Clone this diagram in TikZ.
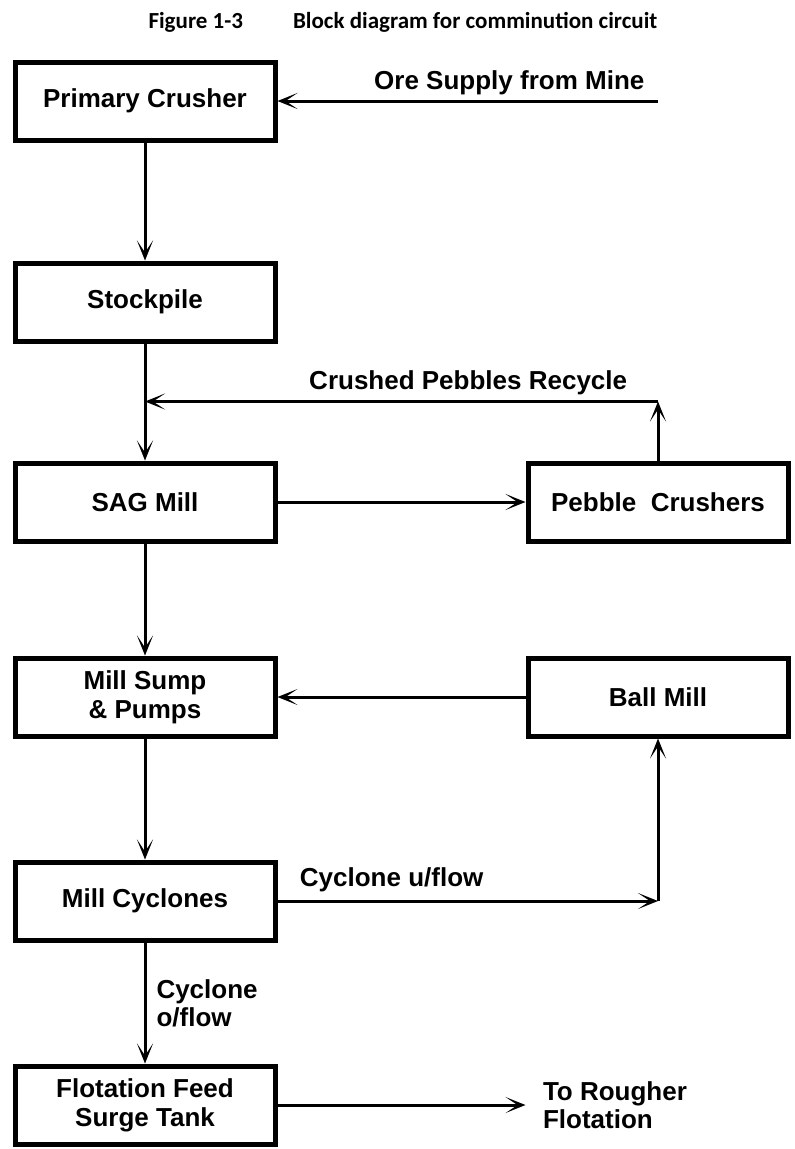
\documentclass[tikz,border=0pt]{standalone}
\usepackage{fontspec}
\setmainfont{Liberation Sans}
\newfontfamily\captionfont{Carlito}
\usetikzlibrary{arrows.meta,positioning}

\begin{document}
\begin{tikzpicture}[
  x=1pt, y=-1pt,
  node distance=118pt and 248pt,
  block/.style={draw=black, line width=5pt, fill=white, minimum width=260pt, minimum height=78pt, inner sep=0pt, align=center, font=\bfseries\fontsize{26}{29}\selectfont},
  flowlabel/.style={inner sep=2pt, align=left, font=\bfseries\fontsize{26}{28}\selectfont},
  arr/.style={-{Stealth[length=20pt, width=16pt, inset=12pt]}, line width=3pt}
]
\useasboundingbox (0,0) rectangle (795,1149);
\node[anchor=west, font=\captionfont\bfseries\fontsize{23}{28}\selectfont] (title) at (145,22) {Figure 1-3\hspace{50pt}Block diagram for comminution circuit};
\node[block] (pc) at (145,101) {Primary Crusher};
\node[block, below=of pc] (stock) {Stockpile};
\node[block, below=117pt of stock] (sag) {SAG Mill};
\node[block, right=of sag] (peb) {Pebble\ \ Crushers};
\node[block, below=112pt of sag] (sump) {Mill Sump\\\& Pumps};
\node[block, right=of sump] (ball) {Ball Mill};
\node[block, below=121pt of sump] (cyc) {Mill Cyclones};
\node[block, below=121pt of cyc] (flot) {Flotation Feed\\Surge Tank};
\coordinate[right=380pt of pc.east] (mine);
\coordinate[above=59pt of peb.north] (recyc);
\coordinate (uflow) at (ball.south |- cyc.east);
\coordinate[right=248pt of flot.east] (rough);
\draw[arr] (mine) -- node[flowlabel, above=3pt, pos=.39] {Ore Supply from Mine} (pc.east);
\draw[arr] (pc) -- (stock);
\draw[arr] (stock) -- (sag);
\draw[arr] (peb) -- (recyc);
\draw[arr] (recyc) -- node[flowlabel, above=3pt, pos=.37] {Crushed Pebbles Recycle} (recyc -| stock.south);
\draw[arr] (sag) -- (peb);
\draw[arr] (sag) -- (sump);
\draw[arr] (ball) -- (sump);
\draw[arr] (sump) -- (cyc);
\draw[arr] (cyc) -- node[flowlabel, above=6pt, pos=.30] {Cyclone u/flow} (uflow);
\draw[arr] (uflow) -- (ball);
\draw[arr] (cyc) -- node[flowlabel, right=8pt] {Cyclone\\o/flow} (flot);
\draw[arr] (flot) -- (rough) node[flowlabel, right=14pt] {To Rougher\\Flotation};
\end{tikzpicture}
\end{document}
